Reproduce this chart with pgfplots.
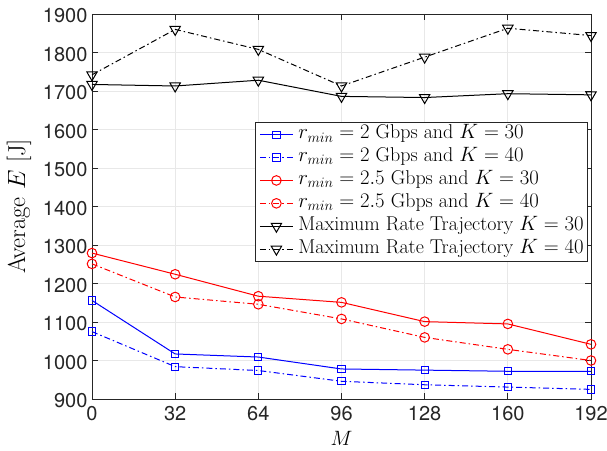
\documentclass[border=0pt]{standalone}
\usepackage{fontspec}
\usepackage{pgfplots}
\pgfplotsset{compat=1.18}
\newfontfamily\helv{TeX Gyre Heros}
\definecolor{axgray}{gray}{0.15}
\pgfplotstableread{
x b30 b40 r30 r40 k30 k40
0   1156 1075 1279 1251 1717 1742
32  1017 984  1224 1165 1713 1860
64  1009 974  1167 1146 1728 1808
96  978  946  1151 1108 1686 1713
128 975  937  1101 1060 1683 1788
160 972  931  1095 1029 1693 1863
192 972  925  1042 1000 1690 1844
}\datatable
\begin{document}
\begin{tikzpicture}
\begin{axis}[
 at={(0,0)}, anchor=south west,
 scale only axis, width=499pt, height=385pt,
 xmin=0,xmax=192,ymin=900,ymax=1900,
 xtick={0,32,...,192}, ytick={900,1000,...,1900},
 grid=major, major grid style={gray!18, line width=0.8pt},
 axis line style={axgray, line width=0.8pt},
 tick style={axgray, line width=0.8pt},
 tick align=inside, major tick length=6pt,
 /pgf/number format/assume math mode=true,
 /pgf/number format/1000 sep={},
 ticklabel style={font=\helv\fontsize{20}{22}\selectfont, text=axgray},
 yticklabel style={xshift=-1pt, yshift=-2pt},
 xticklabel style={yshift=-4pt},
 xlabel={$M$}, ylabel={Average $E$ [J]},
 xlabel style={font=\fontsize{20.5}{22}\selectfont, at={(axis description cs:0.5,0)}, yshift=-39pt, anchor=center, inner sep=0pt},
 ylabel style={font=\fontsize{24.5}{27}\selectfont, at={(axis description cs:-0.1463,0.5)}, anchor=center},
 legend style={at={(rel axis cs:0.99399,0.71948)}, anchor=north east, font=\fontsize{20}{23}\selectfont,
   draw=axgray, line width=0.8pt, inner xsep=4pt, inner ysep=2.5pt, row sep=3.4pt,
   nodes={inner sep=0pt, text height=14pt, text depth=5.5pt},
   /tikz/every odd column/.append style={column sep=5pt}},
 legend cell align=left,
 legend image code/.code={\draw[mark repeat=2,mark phase=2] plot coordinates {(0pt,0pt) (16.5pt,0pt) (33pt,0pt)};},
 every axis plot/.append style={line width=1pt},
]
\addplot[blue, mark=square, mark size=3.65pt, mark options={solid}] table[x=x,y=b30]{\datatable};
\addlegendentry{$r_{min}=2$ Gbps and $K=30$}
\addplot[blue, mark=square, mark size=3.65pt, dash pattern=on 6pt off 3pt on 1.5pt off 3pt, mark options={solid}] table[x=x,y=b40]{\datatable};
\addlegendentry{$r_{min}=2$ Gbps and $K=40$}
\addplot[red, mark=o, mark size=4.8pt, mark options={solid}] table[x=x,y=r30]{\datatable};
\addlegendentry{$r_{min}=2.5$ Gbps and $K=30$}
\addplot[red, mark=o, mark size=4.8pt, dash pattern=on 6pt off 3pt on 1.5pt off 3pt, mark options={solid}] table[x=x,y=r40]{\datatable};
\addlegendentry{$r_{min}=2.5$ Gbps and $K=40$}
\addplot[black, mark=triangle, mark size=6pt, mark options={solid, rotate=180}] table[x=x,y=k30]{\datatable};
\addlegendentry{Maximum Rate Trajectory $K=30$}
\addplot[black, mark=triangle, mark size=6pt, dash pattern=on 6pt off 3pt on 1.5pt off 3pt, mark options={solid, rotate=180}] table[x=x,y=k40]{\datatable};
\addlegendentry{Maximum Rate Trajectory $K=40$}
\end{axis}
\pgfresetboundingbox
\path[use as bounding box] (-92pt,-51pt) rectangle (515pt,399pt);
\end{tikzpicture}
\end{document}
